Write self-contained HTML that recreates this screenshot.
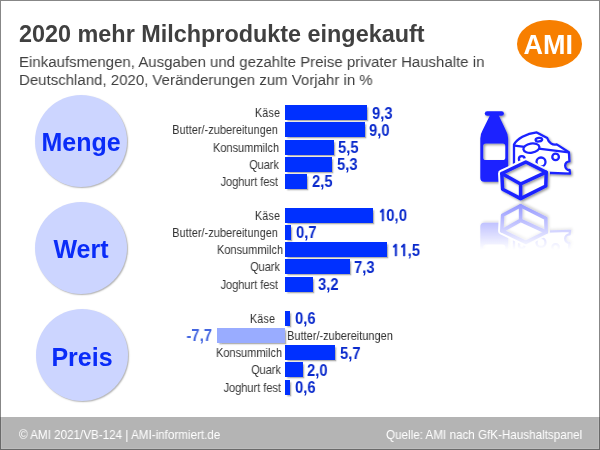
<!DOCTYPE html>
<html><head><meta charset="utf-8">
<style>
*{margin:0;padding:0;box-sizing:border-box}
html,body{width:600px;height:450px;overflow:hidden;background:#fff}
body{position:relative;font-family:"Liberation Sans",Arial,sans-serif;color:#404040}
#frame{position:absolute;left:0;top:0;width:600px;height:450px;border:1px solid rgba(59,59,59,.613);z-index:10;pointer-events:none}
.t{position:absolute;white-space:nowrap;line-height:1;will-change:transform}
#title{left:19px;top:23px;font-size:23.4px;font-weight:bold;color:#404040}
.sub{left:19px;font-size:15.5px;color:#404040;transform:scaleX(.968);transform-origin:0 0}
#ami{position:absolute;left:517px;top:20px;width:64.6px;height:48px;border-radius:50%;background:#f77f00}
#amit{left:515.9px;width:64.6px;text-align:center;top:32px;font-size:27px;font-weight:bold;color:#fff}
.circ{position:absolute;width:92px;height:92px;border-radius:50%;background:#ccd5ff;box-shadow:1px 1px 1.5px rgba(0,0,0,.3)}
.ct{position:absolute;will-change:transform;width:92px;text-align:center;font-size:25px;font-weight:bold;color:#0a2cf8;line-height:1}
.bar{position:absolute;height:15px;background:#0030ff;box-shadow:1.5px 1.5px 1.5px rgba(0,0,0,.3)}
.neg{background:#99acff}
.lab{position:absolute;will-change:transform;font-size:12.8px;transform:scaleX(.86);transform-origin:0 0;color:#333;white-space:nowrap;line-height:1}
.r{text-align:right;width:160px;transform-origin:100% 0}
.val{position:absolute;will-change:transform;font-size:16.3px;font-weight:bold;color:#0a2acc;white-space:nowrap;line-height:1;transform:scaleX(.913);transform-origin:0 0}
#footbg{position:absolute;left:0;top:417px;width:600px;height:33px;background:#b4b4b4}
#foot{position:absolute;left:1px;top:417px;width:598px;height:32px;border:1px solid #bcbcbc;border-top:0}
.ft{position:absolute;top:428.8px;font-size:12.2px;transform:scaleX(.956);transform-origin:0 0;will-change:transform;color:#fff;white-space:nowrap;line-height:1}
.val.r{transform-origin:100% 0}
.nv{color:#4466e0}
.one{font-family:"NanumGothic","Liberation Sans",sans-serif;display:inline-block;width:.556em;text-align:center;-webkit-text-stroke:.4px #0a2acc}
</style></head><body>
<div id="frame"></div>
<div class="t" id="title">2020 mehr Milchprodukte eingekauft</div>
<div class="t sub" style="top:53.5px">Einkaufsmengen, Ausgaben und gezahlte Preise privater Haushalte in</div>
<div class="t sub" style="top:71.5px">Deutschland, 2020, Veränderungen zum Vorjahr in %</div>
<div id="ami"></div>
<div class="t" id="amit">AMI</div>

<div class="circ" style="left:35px;top:95px"></div><div class="ct" style="left:35px;top:129.5px">Menge</div>
<div class="circ" style="left:35px;top:202px"></div><div class="ct" style="left:35px;top:236.5px">Wert</div>
<div class="circ" style="left:36px;top:309px"></div><div class="ct" style="left:36px;top:344.5px">Preis</div>

<div class="bar" style="left:285.0px;top:105.2px;width:82.2px"></div>
<div class="lab r" style="left:120.0px;top:107.2px">Käse</div>
<div class="val" style="left:371.8px;top:104.5px">9,3</div>
<div class="bar" style="left:285.0px;top:122.3px;width:79.6px"></div>
<div class="lab r" style="left:117.7px;top:124.3px">Butter/-zubereitungen</div>
<div class="val" style="left:369.2px;top:121.6px">9,0</div>
<div class="bar" style="left:285.0px;top:139.5px;width:48.6px"></div>
<div class="lab r" style="left:119.0px;top:141.5px">Konsummilch</div>
<div class="val" style="left:338.2px;top:138.8px">5,5</div>
<div class="bar" style="left:285.0px;top:156.7px;width:46.9px"></div>
<div class="lab r" style="left:119.0px;top:158.7px">Quark</div>
<div class="val" style="left:336.5px;top:156.0px">5,3</div>
<div class="bar" style="left:285.0px;top:173.8px;width:22.1px"></div>
<div class="lab r" style="left:117.5px;top:175.8px">Joghurt fest</div>
<div class="val" style="left:311.7px;top:173.1px">2,5</div>
<div class="bar" style="left:285.0px;top:207.9px;width:88.4px"></div>
<div class="lab r" style="left:119.8px;top:209.9px">Käse</div>
<div class="val" style="left:378.0px;top:207.2px"><span class="one">1</span>0,0</div>
<div class="bar" style="left:285.0px;top:225.1px;width:6.2px"></div>
<div class="lab r" style="left:118.2px;top:227.1px">Butter/-zubereitungen</div>
<div class="val" style="left:295.8px;top:224.4px">0,7</div>
<div class="bar" style="left:285.0px;top:242.2px;width:101.7px"></div>
<div class="lab r" style="left:122.9px;top:244.2px">Konsummilch</div>
<div class="val" style="left:391.3px;top:241.5px"><span class="one">1</span><span class="one">1</span>,5</div>
<div class="bar" style="left:285.0px;top:259.4px;width:64.5px"></div>
<div class="lab r" style="left:120.0px;top:261.4px">Quark</div>
<div class="val" style="left:354.1px;top:258.7px">7,3</div>
<div class="bar" style="left:285.0px;top:276.5px;width:28.3px"></div>
<div class="lab r" style="left:117.7px;top:278.5px">Joghurt fest</div>
<div class="val" style="left:317.9px;top:275.8px">3,2</div>
<div class="bar" style="left:285.0px;top:311.0px;width:5.3px"></div>
<div class="lab r" style="left:115.4px;top:313.0px">Käse</div>
<div class="val" style="left:294.9px;top:310.3px">0,6</div>
<div class="bar neg" style="left:216.9px;top:328.1px;width:68.1px"></div>
<div class="lab" style="left:287.0px;top:330.1px">Butter/-zubereitungen</div>
<div class="val r nv" style="left:51.7px;top:327.4px">-7,7</div>
<div class="bar" style="left:285.0px;top:345.3px;width:50.4px"></div>
<div class="lab r" style="left:122.0px;top:347.3px">Konsummilch</div>
<div class="val" style="left:340.0px;top:344.6px">5,7</div>
<div class="bar" style="left:285.0px;top:362.4px;width:17.7px"></div>
<div class="lab r" style="left:121.0px;top:364.4px">Quark</div>
<div class="val" style="left:307.3px;top:361.8px">2,0</div>
<div class="bar" style="left:285.0px;top:379.6px;width:5.3px"></div>
<div class="lab r" style="left:121.0px;top:381.6px">Joghurt fest</div>
<div class="val" style="left:294.9px;top:378.9px">0,6</div>

<svg id="icon" width="600" height="450" viewBox="0 0 600 450" style="position:absolute;left:0;top:0">
<defs>
<filter id="sh" x="-10%" y="-10%" width="130%" height="130%"><feDropShadow dx="1.4" dy="1.4" stdDeviation="0.8" flood-color="#000" flood-opacity="0.42"/></filter>
<linearGradient id="fg" gradientUnits="userSpaceOnUse" x1="0" y1="201" x2="0" y2="250"><stop offset="0" stop-color="#fff" stop-opacity="0.5"/><stop offset="1" stop-color="#fff" stop-opacity="0"/></linearGradient>
<mask id="fm" maskUnits="userSpaceOnUse" x="0" y="0" width="600" height="450"><rect x="0" y="200" width="600" height="60" fill="url(#fg)"/></mask>
<g id="ic">
<g fill="#1a24ff" fill-rule="evenodd" filter="url(#sh)">
<rect x="484.8" y="111.2" width="19.1" height="4.6" rx="2.3"/>
<path d="M490.1 115 L498.6 115 L505.9 130.6 Q508.1 134.2 508.1 138.5 L508.1 177.8 Q508.1 181.7 504.4 181.7 L484.1 181.7 Q480.3 181.7 480.3 177.8 L480.3 138.5 Q480.3 134.2 482.5 130.6 Z M485.8 143.5 L502.7 143.5 Q505.3 143.5 505.3 146.1 L505.3 157.4 Q505.3 160 502.7 160 L485.8 160 Q483.2 160 483.2 157.4 L483.2 146.1 Q483.2 143.5 485.8 143.5 Z"/>
</g>
<g fill="#fff" stroke="#1a24ff" stroke-width="2.3" stroke-linejoin="round" filter="url(#sh)">
<path d="M514 144.6 C517 139 526 133.4 536.7 132.4 L547.2 138 C548.5 142.5 552.5 145.6 556.7 144.4 L568.9 152.3 L569.4 161.3 A4.35 4.35 0 0 0 569.6 170 L570 173.6 L540 172.5 L514 172 Z"/>
<path d="M514.5 145.6 L568.9 152.3" fill="none"/>
<ellipse cx="531.4" cy="148.1" rx="8.1" ry="4.6" transform="rotate(-9 531.4 148.1)"/>
<ellipse cx="538.9" cy="139.7" rx="3.3" ry="1.8" transform="rotate(-10 538.9 139.7)"/>
<circle cx="555.6" cy="156.9" r="3.3"/>
<circle cx="521.8" cy="159.1" r="2.9"/>
<circle cx="541" cy="162" r="4.5"/>
</g>
<path d="M525.8 162 L501.8 173.5 L502.6 189.2 L520.6 198.6 L545.8 186 L546.2 172.2 Z" fill="#fff" stroke="#fff" stroke-width="7.5" stroke-linejoin="round"/>
<g fill="none" stroke="#1a24ff" stroke-width="3.5" stroke-linejoin="round" stroke-linecap="round" filter="url(#sh)">
<path d="M525.8 162 L501.8 173.5 L502.6 189.2 L520.6 198.6 L545.8 186 L546.2 172.2 Z"/>
<path d="M501.8 173.5 L520.6 184 L546.2 172.2 M520.6 184 L520.6 198.6"/>
</g>
</g>
</defs>
<g mask="url(#fm)"><use href="#ic" transform="translate(0 404.4) scale(1 -1)"/></g>
<use href="#ic"/>
</svg>

<div id="footbg"></div><div id="foot"></div>
<div class="ft" style="left:18.8px">© AMI 2021/VB-124 | AMI-informiert.de</div>
<div class="ft" style="left:385.6px">Quelle: AMI nach GfK-Haushaltspanel</div>
</body></html>
